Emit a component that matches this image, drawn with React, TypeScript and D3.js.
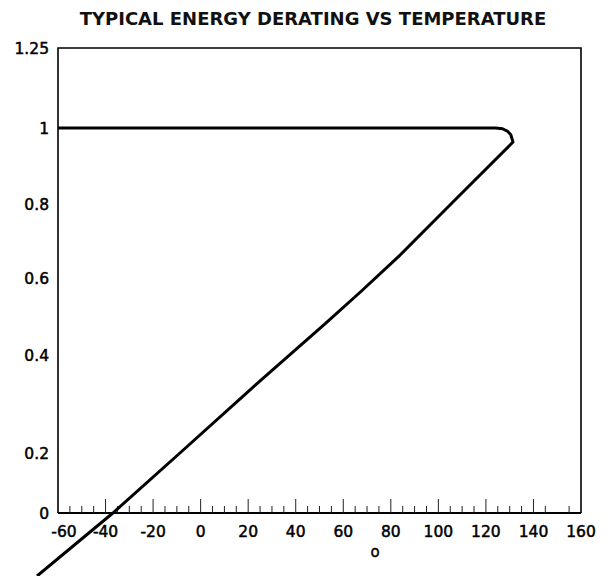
import React, { useEffect, useRef } from 'react';
import * as d3 from 'd3';

// curve (temperature, derating factor)
const temps = [-60, 124, 127, 129, 130.5, 131.4, 107.4, 83.9, 67.9, 52.3, 20.8, -8.7, -36.9, -68.8];
const derating = [1, 1, 0.998, 0.992, 0.982, 0.963, 0.813, 0.662, 0.5675, 0.481, 0.329, 0.2, 0, -0.21];

const yTicks = [0, 0.2, 0.4, 0.6, 0.8, 1, 1.25];
const yTickLabels = ['0', '0.2', '0.4', '0.6', '0.8', '1', '1.25'];
const xTickLabels = [-60, -40, -20, 0, 20, 40, 60, 80, 100, 120, 140, 160];
const majorTicks = [-40, -20, 0, 20, 40, 60, 80, 100, 120, 140];
const minorTicks = [-55, -50, -45, -35, -30, -25, -15, -10, -5, 5, 10, 15, 25, 30, 35, 45, 50, 55,
  65, 70, 75, 85, 90, 95, 105, 110, 115, 125, 130, 135, 145, 155];

const title = 'TYPICAL ENERGY DERATING VS TEMPERATURE';
const xTitle = 'o';

const App: React.FC = () => {
  const ref = useRef<SVGSVGElement | null>(null);

  useEffect(() => {
    if (ref.current) draw();
  }, []);

  const draw = () => {
    const svg = d3.select(ref.current);
    svg.selectAll('*').remove();

    const left = 58, right = 581, top = 48, bottom = 513;
    const font = '"DejaVu Sans", sans-serif';

    const x = d3.scaleLinear().domain([-60, 160]).range([left, right]);
    // the printed axis is not evenly spaced, so map each label to where it sits
    const y = d3.scaleLinear().domain(yTicks).range([513, 453, 355, 278, 204, 128, 48]);

    svg.append('text')
      .attr('x', 313)
      .attr('y', 25)
      .attr('text-anchor', 'middle')
      .attr('font-family', font)
      .attr('font-weight', 'bold')
      .attr('font-size', 18)
      .attr('fill', '#111')
      .text(title);

    // frame
    svg.append('path')
      .attr('d', `M${left},${bottom}V${top}H${right}V${bottom}`)
      .attr('fill', 'none')
      .attr('stroke', '#000')
      .attr('stroke-width', 1.6);

    svg.append('line')
      .attr('x1', left).attr('x2', right)
      .attr('y1', bottom).attr('y2', bottom)
      .attr('stroke', '#000')
      .attr('stroke-width', 2);

    svg.selectAll('.major')
      .data(majorTicks)
      .enter().append('line')
      .attr('class', 'major')
      .attr('x1', d => x(d)).attr('x2', d => x(d))
      .attr('y1', bottom).attr('y2', bottom - 14)
      .attr('stroke', '#222')
      .attr('stroke-width', 1);

    svg.selectAll('.minor')
      .data(minorTicks)
      .enter().append('line')
      .attr('class', 'minor')
      .attr('x1', d => x(d)).attr('x2', d => x(d))
      .attr('y1', bottom).attr('y2', bottom - 7)
      .attr('stroke', '#222')
      .attr('stroke-width', 1);

    svg.selectAll('.xlabel')
      .data(xTickLabels)
      .enter().append('text')
      .attr('class', 'xlabel')
      .attr('x', d => x(d) + (d === -60 ? 6 : 0))
      .attr('y', 537)
      .attr('text-anchor', 'middle')
      .attr('font-family', font)
      .attr('font-size', 15.5)
      .attr('stroke', '#000')
      .attr('stroke-width', 0.5)
      .text(d => String(d));

    svg.selectAll('.ylabel')
      .data(yTicks)
      .enter().append('text')
      .attr('class', 'ylabel')
      .attr('x', 49)
      .attr('y', d => y(d))
      .attr('dy', '0.36em')
      .attr('text-anchor', 'end')
      .attr('font-family', font)
      .attr('font-size', 15.5)
      .attr('stroke', '#000')
      .attr('stroke-width', 0.5)
      .text((d, i) => yTickLabels[i]);

    svg.append('text')
      .attr('x', 375)
      .attr('y', 557)
      .attr('text-anchor', 'middle')
      .attr('font-family', font)
      .attr('font-size', 15)
      .attr('stroke', '#000')
      .attr('stroke-width', 0.4)
      .text(xTitle);

    const points = temps.map((t, i) => [t, derating[i]] as [number, number]);
    const line = d3.line<[number, number]>()
      .x(d => x(d[0]))
      .y(d => y(d[1]))
      .curve(d3.curveLinear);

    svg.append('path')
      .datum(points)
      .attr('d', line)
      .attr('fill', 'none')
      .attr('stroke', '#000')
      .attr('stroke-width', 3)
      .attr('stroke-linejoin', 'round');
  };

  return (
    <svg ref={ref} width={610} height={576}
      style={{ position: 'absolute', left: 0, top: 0, background: '#fff' }} />
  );
};

export default App;
